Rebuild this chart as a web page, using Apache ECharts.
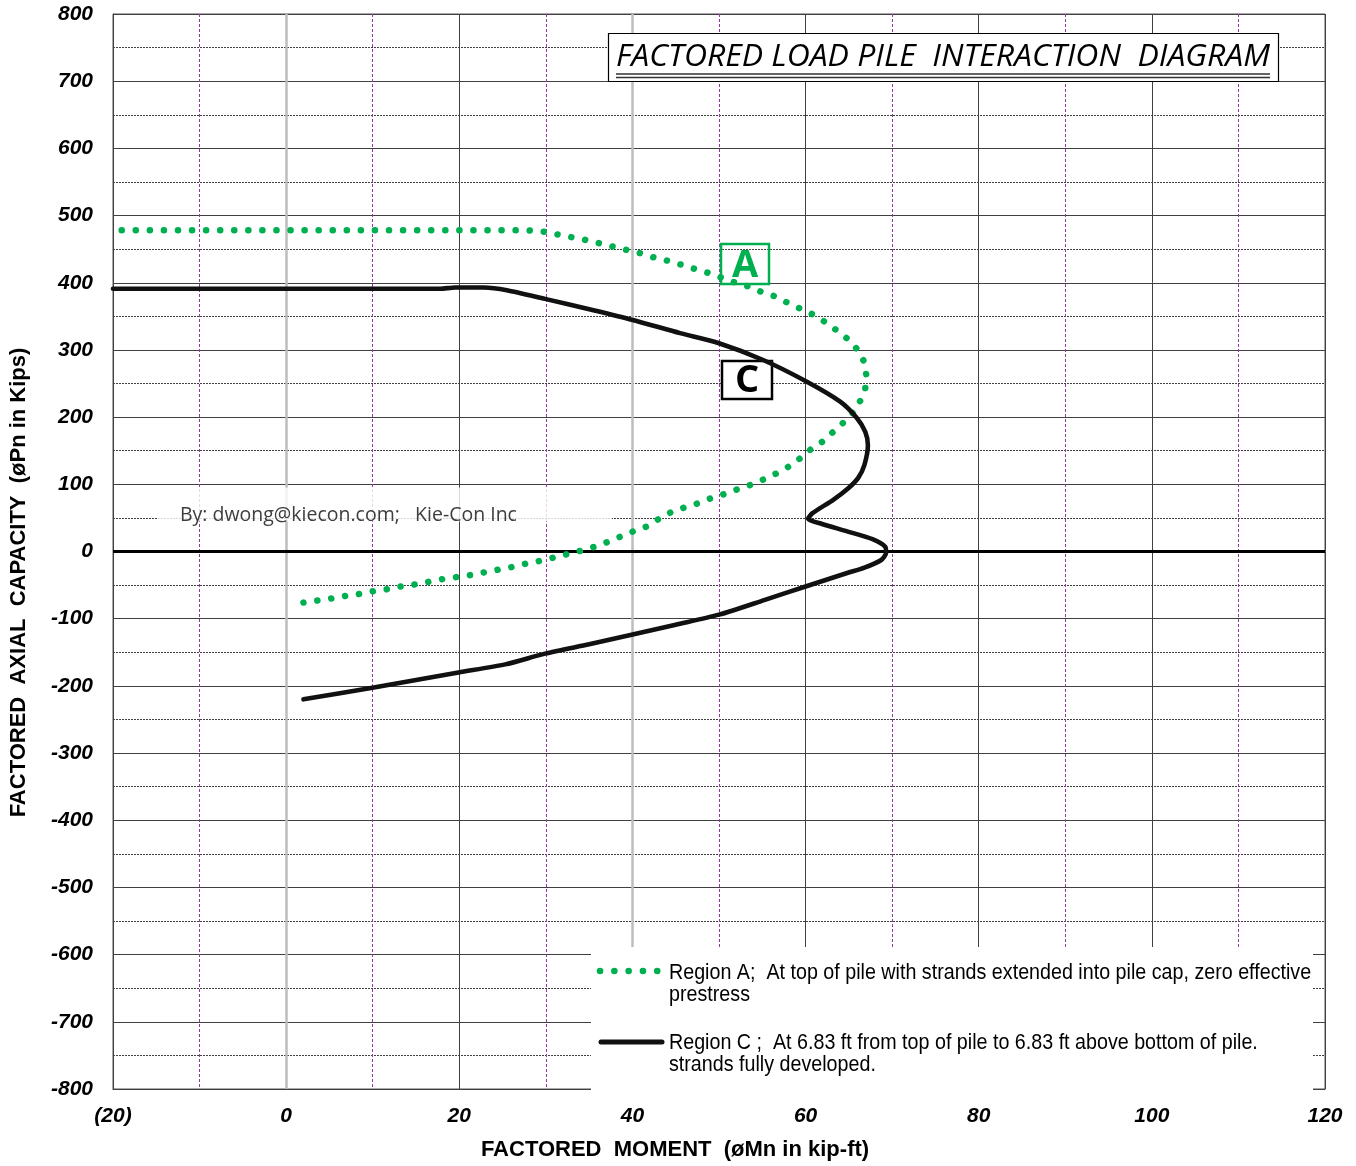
<!DOCTYPE html>
<html>
<head>
<meta charset="utf-8">
<script src="https://cdn.jsdelivr.net/npm/echarts@6/dist/echarts.min.js"></script>
<style>
html,body{margin:0;padding:0;background:#fff;}
#chart{width:1356px;height:1166px;}
</style>
</head>
<body>
<div id="chart"></div>
<script>
// ---- data (moment kip-ft, axial kips) ----
const regionA_M = [-19, 28, 29.8, 31.3, 32.9, 34.5, 36.1, 37.7, 39.3, 40.9, 42.4, 44, 45.6, 47.1, 48.7, 50.2, 51.7, 53.3, 54.8, 56.4, 57.8, 59.3, 60.8, 62.2, 63.5, 64.8, 65.9, 66.7, 67, 66.9, 66.3, 65.5, 64.3, 63.1, 61.9, 60.5, 59.3, 58, 56.6, 55.1, 53.6, 52, 50.5, 49, 47.4, 45.9, 44.4, 43, 41.6, 40.1, 38.6, 37.1, 35.6, 34, 32.4, 30.9, 29.3, 27.7, 26.1, 24.5, 22.9, 21.3, 19.7, 18.1, 16.5, 14.9, 13.2, 11.7, 10.1, 8.5, 6.9, 5.2, 3.6, 2];
const regionA_P = [478, 478, 476, 472, 468, 464, 459, 454, 449, 444, 438, 433, 427, 421, 415, 408, 401, 395, 387, 380, 371, 362, 353, 342, 330, 317, 302, 284, 264, 243, 224, 207, 191, 177, 163, 151, 138, 126, 116, 107, 99, 92, 85, 79, 71, 65, 58, 48, 37, 30, 22, 14, 7, 1, -4, -9, -14, -18, -23, -27, -31, -35, -38, -41, -45, -49, -52, -56, -59, -63, -66, -70, -73, -76];

const regionC_M = [-20, 17.8, 19.5, 22.8, 25.5, 29.9, 35.5, 39.9, 45.5, 50, 55.1, 60.1, 64, 65.9, 66.9, 67.2, 66.8, 66.1, 65, 63.2, 60.8, 60.3, 61.9, 64.8, 67.8, 69.2, 69.3, 68.7, 66.8, 64.8, 60, 55.3, 50, 45, 39.9, 35, 29.9, 25.3, 19.9, 9.8, 2];
const regionC_P = [391, 391, 393, 393, 389, 376, 359, 345, 325, 310, 285, 253, 223, 199, 178, 158, 129, 110, 95, 77, 57, 49, 41, 30, 18, 7, -2, -13, -24, -32, -52, -72, -94, -109, -124, -138, -152, -168, -180, -203, -220];

const xTicks = {min: -20, max: 120, step: 20};
const yTicks = {min: -800, max: 800, step: 100};
const refLinesX = [0, 40];

const titleText = 'FACTORED LOAD PILE  INTERACTION  DIAGRAM';
const xName = 'FACTORED  MOMENT  (\u00f8Mn in kip-ft)';
const yName = 'FACTORED  AXIAL  CAPACITY  (\u00f8Pn in Kips)';
const legendA = ['Region A;  At top of pile with strands extended into pile cap, zero effective', 'prestress'];
const legendC = ['Region C ;  At 6.83 ft from top of pile to 6.83 ft above bottom of pile.', 'strands fully developed.'];
const watermark = 'By: dwong@kiecon.com;   Kie-Con Inc';

const zip = (a, b) => a.map((v, i) => [v, b[i]]);
const dataA = zip(regionA_M, regionA_P);
const dataC = zip(regionC_M, regionC_P);

const chart = echarts.init(document.getElementById('chart'), null, {renderer: 'canvas'});
const labelFont = {fontFamily: 'Liberation Sans', fontWeight: 'bold', fontStyle: 'italic', fontSize: 21, color: '#000'};
const legFont = '22px "Liberation Sans"';
const legScale = 0.895;
const dotPeriod = 14;

const option = {
  animation: false,
  backgroundColor: '#fff',
  grid: {left: 113, right: 31, top: 14, bottom: 72, show: true, borderColor: '#555', borderWidth: 1},
  xAxis: {
    type: 'value', min: xTicks.min, max: xTicks.max, interval: xTicks.step,
    axisLine: {show: true, onZero: false, lineStyle: {color: '#404040', width: 1}},
    axisTick: {show: false},
    axisLabel: Object.assign({margin: 17, formatter: v => v < 0 ? '(' + (-v) + ')' : String(v)}, labelFont),
    splitLine: {show: true, lineStyle: {color: '#404040', width: 1}},
    minorTick: {show: false, splitNumber: 2},
    minorSplitLine: {show: true, lineStyle: {color: '#9933aa', width: 1, type: [3, 2]}},
    name: xName, nameLocation: 'middle', nameGap: 50,
    nameTextStyle: {fontFamily: 'Liberation Sans', fontWeight: 'bold', fontSize: 22, color: '#000', padding: [0, 88, 0, 0]}
  },
  yAxis: {
    type: 'value', min: yTicks.min, max: yTicks.max, interval: yTicks.step,
    axisLine: {show: true, onZero: false, lineStyle: {color: '#404040', width: 1}},
    axisTick: {show: false},
    axisLabel: Object.assign({margin: 20}, labelFont),
    splitLine: {show: true, lineStyle: {color: '#404040', width: 1}},
    minorTick: {show: false, splitNumber: 2},
    minorSplitLine: {show: true, lineStyle: {color: '#404040', width: 1, type: [2, 1]}},
    name: yName, nameLocation: 'middle', nameGap: 83,
    nameTextStyle: {fontFamily: 'Liberation Sans', fontWeight: 'bold', fontSize: 22, color: '#000', padding: [0, 62, 0, 0]}
  },
  series: [
    {
      name: 'refs', type: 'line', data: [], silent: true,
      markLine: {
        silent: true, symbol: 'none', label: {show: false},
        data: refLinesX.map(v => ({xAxis: v, lineStyle: {color: '#bdbdbd', width: 2.5, type: 'solid'}}))
              .concat([{yAxis: 0, lineStyle: {color: '#000', width: 3, type: 'solid'}}])
      }
    },
    {
      id: 'A', name: 'Region A', type: 'line', data: dataA, showSymbol: false, smooth: false,
      lineStyle: {color: '#00b050', width: 6.5, type: [0.1, dotPeriod - 0.1], cap: 'round', join: 'round'}, z: 5
    },
    {
      name: 'Region C', type: 'line', data: dataC, showSymbol: false, smooth: 0.25,
      lineStyle: {color: '#111', width: 4.6, cap: 'round', join: 'round'}, z: 6
    }
  ],
  graphic: [
    // title box
    {type: 'rect', shape: {x: 608.5, y: 33.5, width: 670, height: 48}, style: {fill: '#fff', stroke: '#000', lineWidth: 1.2}, z: 10},
    {type: 'text', x: 943, y: 57, scaleX: 1.03, style: {text: titleText, font: 'italic 31px "Open Sans"', fill: '#000', align: 'center', verticalAlign: 'middle'}, z: 11},
    {type: 'line', shape: {x1: 616, y1: 74, x2: 1270, y2: 74}, style: {stroke: '#333', lineWidth: 1.6}, z: 11},
    {type: 'line', shape: {x1: 616, y1: 77.5, x2: 1270, y2: 77.5}, style: {stroke: '#333', lineWidth: 1.6}, z: 11},
    // region labels
    {type: 'rect', shape: {x: 721, y: 244, width: 48, height: 40}, style: {fill: 'rgba(255,255,255,0)', stroke: '#00b050', lineWidth: 2.5}, z: 1},
    {type: 'text', x: 745, y: 266, style: {text: 'A', font: 'bold 38px "Open Sans"', fill: '#00b050', align: 'center', verticalAlign: 'middle'}, z: 1},
    {type: 'rect', shape: {x: 722, y: 361, width: 50, height: 38}, style: {fill: '#fff', stroke: '#000', lineWidth: 2.5}, z: 1},
    {type: 'text', x: 747, y: 381, style: {text: 'C', font: 'bold 38px "Open Sans"', fill: '#000', align: 'center', verticalAlign: 'middle'}, z: 1},
    // watermark
    {type: 'rect', shape: {x: 158, y: 487.5, width: 454, height: 34}, style: {fill: 'rgba(255,255,255,0.8)'}, z: 10},
    {type: 'text', x: 180, y: 515, style: {text: watermark, font: '19.5px "Open Sans"', fill: '#3d3d3d', align: 'left', verticalAlign: 'middle'}, z: 11},
    // legend
    {type: 'rect', shape: {x: 591, y: 947, width: 722, height: 146}, style: {fill: '#fff'}, z: 10},
    {type: 'line', shape: {x1: 600, y1: 971, x2: 660, y2: 971}, style: {stroke: '#00b050', lineWidth: 6.5, lineDash: [0.1, 14.2], lineCap: 'round'}, z: 11},
    {type: 'text', x: 669, y: 973, scaleX: legScale, style: {text: legendA[0], font: legFont, fill: '#000', align: 'left', verticalAlign: 'middle'}, z: 11},
    {type: 'text', x: 669, y: 995, scaleX: legScale, style: {text: legendA[1], font: legFont, fill: '#000', align: 'left', verticalAlign: 'middle'}, z: 11},
    {type: 'line', shape: {x1: 601, y1: 1042, x2: 662, y2: 1042}, style: {stroke: '#111', lineWidth: 5, lineCap: 'round'}, z: 11},
    {type: 'text', x: 669, y: 1043, scaleX: legScale, style: {text: legendC[0], font: legFont, fill: '#000', align: 'left', verticalAlign: 'middle'}, z: 11},
    {type: 'text', x: 669, y: 1065, scaleX: legScale, style: {text: legendC[1], font: legFont, fill: '#000', align: 'left', verticalAlign: 'middle'}, z: 11}
  ]
};
chart.setOption(option);

// fit the dot spacing so dots land on both ends of the Region A path
const px = dataA.map(d => chart.convertToPixel({gridIndex: 0}, d));
let L = 0;
for (let i = 1; i < px.length; i++) L += Math.hypot(px[i][0] - px[i - 1][0], px[i][1] - px[i - 1][1]);
const n = Math.max(1, Math.round(L / dotPeriod));
const period = L / n;
chart.setOption({series: [{id: 'A', lineStyle: {type: [0.1, period - 0.1]}}]});
</script>
</body>
</html>
